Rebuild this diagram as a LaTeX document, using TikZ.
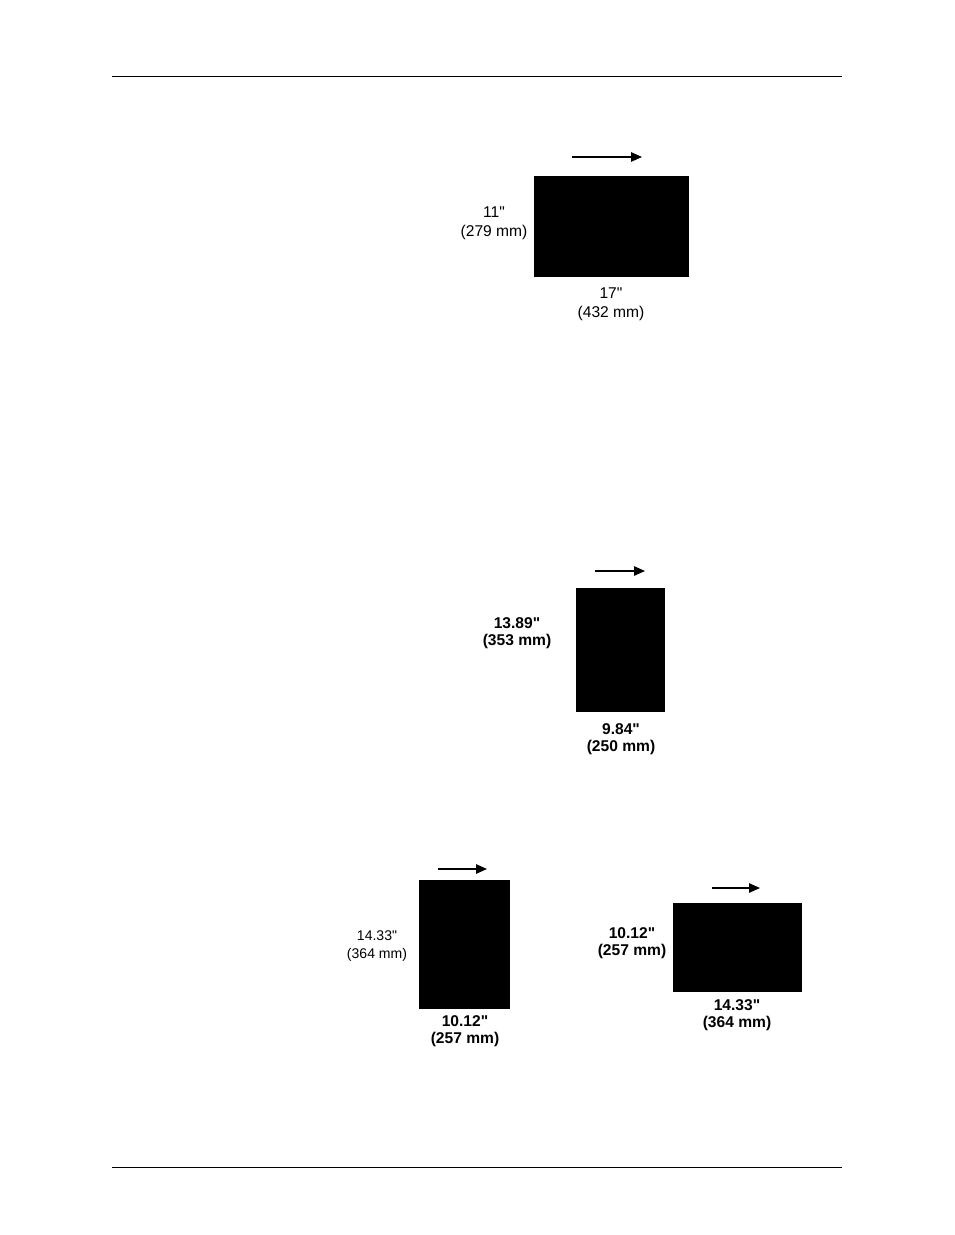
\documentclass[tikz,border=0pt]{standalone}
\usepackage{fontspec}
\setmainfont{Liberation Sans}[Ligatures=TeXOff]
\usetikzlibrary{arrows.meta}

\tikzset{
  sheet/.style={fill=black},
  feed/.style={line width=1pt, -{Triangle[length=7pt,width=6pt]}},
  dim/.style={inner sep=0pt, align=center, font=\fontsize{10}{12}\selectfont},
  dimbold/.style={dim, font=\fontsize{10}{10.5}\selectfont\bfseries},
  dimsmall/.style={dim, font=\fontsize{9}{11.5}\selectfont},
  rule/.style={line width=0.6pt}
}

\begin{document}
\begin{tikzpicture}[x=0.6414pt, y=-0.6414pt]
            \useasboundingbox (0,0) rectangle (954,1235);
            \coordinate (t1) at (112,76);
            \coordinate (t2) at (842,76);
            \draw[rule] (t1) -- (t2);
            \coordinate (b1) at (112,1167);
            \coordinate (b2) at (842,1167);
            \draw[rule] (b1) -- (b2);

            % 17 x 11
            \fill[sheet] (534,176) rectangle (689,277);
            \coordinate (f1s) at (572,157);
            \coordinate (f1e) at (642,157);
            \draw[feed] (f1s) -- (f1e);
            \node[dim] (h1) at (494,223) {11"\\(279 mm)};
            \node[dim] (w1) at (611,304) {17"\\(432 mm)};

            % 9.84 x 13.89
            \fill[sheet] (576,588) rectangle (665,712);
            \coordinate (f2s) at (595,571);
            \coordinate (f2e) at (645,571);
            \draw[feed] (f2s) -- (f2e);
            \node[dimbold] (h2) at (517,633) {13.89"\\(353 mm)};
            \node[dimbold] (w2) at (621,739) {9.84"\\(250 mm)};

            % 10.12 x 14.33
            \fill[sheet] (419,880) rectangle (510,1009);
            \coordinate (f3s) at (438,869);
            \coordinate (f3e) at (487,869);
            \draw[feed] (f3s) -- (f3e);
            \node[dimsmall] (h3) at (377,946) {14.33"\\(364 mm)};
            \node[dimbold] (w3) at (465,1031) {10.12"\\(257 mm)};

            % 14.33 x 10.12
            \fill[sheet] (673,903) rectangle (802,992);
            \coordinate (f4s) at (712,888);
            \coordinate (f4e) at (760,888);
            \draw[feed] (f4s) -- (f4e);
            \node[dimbold] (h4) at (632,943) {10.12"\\(257 mm)};
            \node[dimbold] (w4) at (737,1015) {14.33"\\(364 mm)};
        \end{tikzpicture}
\end{document}
